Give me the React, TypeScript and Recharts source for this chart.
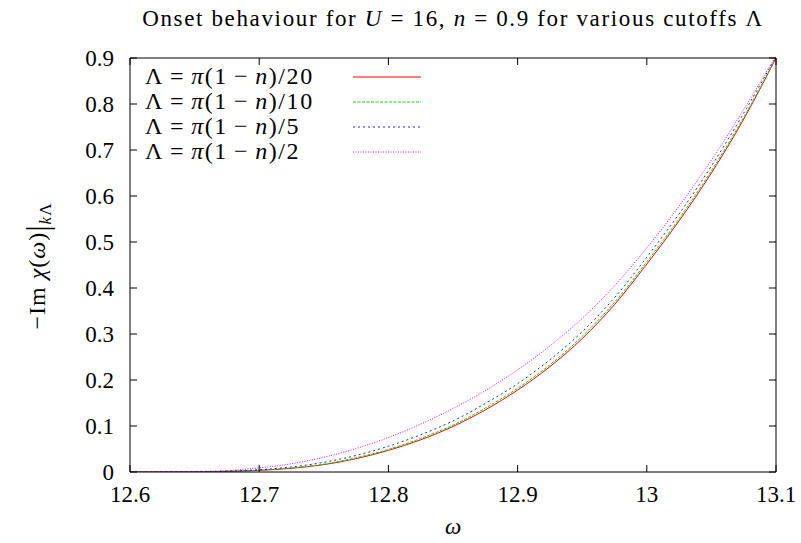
import React from "react";
import { ComposedChart, Line, XAxis, YAxis, Legend } from "recharts";

// frequency grid (omega)
const omega = [
  12.6, 12.625, 12.65, 12.675, 12.7, 12.725, 12.75, 12.775, 12.8, 12.825, 12.85,
  12.875, 12.9, 12.925, 12.95, 12.975, 13.0, 13.025, 13.05, 13.075, 13.1,
];

// -Im chi(omega) for each cutoff
const cut20 = [
  0, 0.0001, 0.0004, 0.0013, 0.0035, 0.008, 0.016, 0.029, 0.047, 0.07, 0.099,
  0.135, 0.178, 0.229, 0.29, 0.364, 0.452, 0.546, 0.65, 0.767, 0.9,
];
const cut10 = [
  0, 0.0001, 0.0005, 0.0015, 0.004, 0.009, 0.017, 0.031, 0.049, 0.073, 0.102,
  0.139, 0.182, 0.233, 0.295, 0.369, 0.457, 0.551, 0.655, 0.771, 0.9,
];
const cut5 = [
  0, 0.0002, 0.0007, 0.002, 0.005, 0.011, 0.021, 0.036, 0.056, 0.081, 0.111,
  0.149, 0.192, 0.244, 0.305, 0.379, 0.467, 0.561, 0.665, 0.78, 0.903,
];
const cut2 = [
  0, 0.0003, 0.001, 0.003, 0.009, 0.018, 0.032, 0.051, 0.075, 0.104, 0.138,
  0.177, 0.222, 0.274, 0.334, 0.405, 0.487, 0.578, 0.678, 0.788, 0.905,
];

const xTicks = [12.6, 12.7, 12.8, 12.9, 13, 13.1];
const yTicks = [0, 0.1, 0.2, 0.3, 0.4, 0.5, 0.6, 0.7, 0.8, 0.9];
const seriesKeys = ["c20", "c10", "c5", "c2"];
const divisors = ["20", "10", "5", "2"];

const data = omega.map((w, i) => ({
  w,
  c20: cut20[i],
  c10: cut10[i],
  c5: cut5[i],
  c2: cut2[i],
}));

const FONT = "'Liberation Serif', 'DejaVu Serif', serif";
const TICK = 7;

function BottomTick(props: any) {
  const { x, y, payload } = props;
  return (
    <g>
      <line x1={x} x2={x} y1={y} y2={y - TICK} stroke="#000" />
      <text
        x={x}
        y={y + 22}
        textAnchor="middle"
        dominantBaseline="central"
        style={{ fontFamily: FONT, fontSize: 23 }}
        fill="#000"
      >
        {String(payload.value)}
      </text>
    </g>
  );
}

function LeftTick(props: any) {
  const { x, y, payload } = props;
  return (
    <g>
      <line x1={x} x2={x + TICK} y1={y} y2={y} stroke="#000" />
      <text
        x={x - 16}
        y={y}
        textAnchor="end"
        dominantBaseline="central"
        style={{ fontFamily: FONT, fontSize: 23 }}
        fill="#000"
      >
        {String(payload.value)}
      </text>
    </g>
  );
}

function TopTick(props: any) {
  const { x, y } = props;
  return <line x1={x} x2={x} y1={y} y2={y + TICK} stroke="#000" />;
}

function RightTick(props: any) {
  const { x, y } = props;
  return <line x1={x} x2={x - TICK} y1={y} y2={y} stroke="#000" />;
}

const gap = { margin: "0 6px" };

function KeyBox(props: any) {
  const items = (props.payload || [])
    .filter((it: any) => seriesKeys.includes(it.dataKey) && it.type !== "none")
    .sort(
      (a: any, b: any) =>
        seriesKeys.indexOf(a.dataKey) - seriesKeys.indexOf(b.dataKey),
    );
  return (
    <div style={{ fontFamily: FONT, fontSize: 24, letterSpacing: 1.6 }}>
      {items.map((it: any) => (
        <div
          key={it.dataKey}
          style={{ display: "flex", alignItems: "center", height: 25 }}
        >
          <span style={{ width: 208, whiteSpace: "nowrap" }}>
            Λ<span style={gap}>=</span>
            <i>π</i>(1<span style={gap}>−</span>
            <i>n</i>)/{divisors[seriesKeys.indexOf(it.dataKey)]}
          </span>
          <svg width={68} height={6}>
            <line
              x1={0}
              x2={68}
              y1={3}
              y2={3}
              stroke={it.color}
              strokeDasharray={it.payload?.strokeDasharray}
            />
          </svg>
        </div>
      ))}
    </div>
  );
}

export default function App() {
  return (
    <div
      style={{
        position: "absolute",
        left: 0,
        top: 0,
        width: 801,
        height: 543,
        background: "#fff",
        fontFamily: FONT,
      }}
    >
      <div
        style={{
          position: "absolute",
          left: 0,
          width: 906,
          top: 6,
          textAlign: "center",
          fontSize: 23,
          letterSpacing: 1.65,
          whiteSpace: "nowrap",
        }}
      >
        Onset behaviour for <i>U</i> = 16, <i>n</i> = 0.9 for various cutoffs Λ
      </div>
      <ComposedChart
        width={801}
        height={543}
        data={data}
        margin={{ top: 57, right: 24, bottom: 70, left: 129 }}
      >
        <XAxis
          xAxisId="main"
          dataKey="w"
          type="number"
          domain={[12.6, 13.1]}
          ticks={xTicks}
          interval={0}
          height={1}
          tickSize={0}
          tickMargin={0}
          tick={<BottomTick />}
          axisLine={{ stroke: "#000" }}
          allowDataOverflow
        />
        <XAxis
          xAxisId="top"
          orientation="top"
          dataKey="w"
          type="number"
          domain={[12.6, 13.1]}
          ticks={xTicks}
          interval={0}
          height={1}
          tickSize={0}
          tickMargin={0}
          tick={<TopTick />}
          axisLine={{ stroke: "#000" }}
          allowDataOverflow
        />
        <YAxis
          yAxisId="main"
          type="number"
          domain={[0, 0.9]}
          ticks={yTicks}
          interval={0}
          width={1}
          tickSize={0}
          tickMargin={0}
          tick={<LeftTick />}
          axisLine={{ stroke: "#000" }}
          allowDataOverflow
        />
        <YAxis
          yAxisId="right"
          orientation="right"
          type="number"
          domain={[0, 0.9]}
          ticks={yTicks}
          interval={0}
          width={1}
          tickSize={0}
          tickMargin={0}
          tick={<RightTick />}
          axisLine={{ stroke: "#000" }}
          allowDataOverflow
        />
        <Legend
          layout="vertical"
          verticalAlign="middle"
          align="center"
          content={<KeyBox />}
          wrapperStyle={{ left: 145, top: 64, width: 300, height: 100 }}
        />
        <Line
          xAxisId="main"
          yAxisId="main"
          type="monotone"
          dataKey="c20"
          stroke="#ff0000"
          strokeWidth={1}
          dot={false}
          isAnimationActive={false}
        />
        <Line
          xAxisId="main"
          yAxisId="main"
          type="monotone"
          dataKey="c10"
          stroke="#00e000"
          strokeWidth={1}
          strokeDasharray="3 1.5"
          dot={false}
          isAnimationActive={false}
        />
        <Line
          xAxisId="main"
          yAxisId="main"
          type="monotone"
          dataKey="c5"
          stroke="#2020ff"
          strokeWidth={1}
          strokeDasharray="2 3"
          dot={false}
          isAnimationActive={false}
        />
        <Line
          xAxisId="main"
          yAxisId="main"
          type="monotone"
          dataKey="c2"
          stroke="#ff00ff"
          strokeWidth={1}
          strokeDasharray="1 1.5"
          dot={false}
          isAnimationActive={false}
        />
        <Line
          xAxisId="top"
          yAxisId="right"
          dataKey="c20"
          stroke="none"
          dot={false}
          legendType="none"
          isAnimationActive={false}
        />
      </ComposedChart>
      <div
        style={{
          position: "absolute",
          left: 40,
          top: 266,
          transform: "translate(-50%, -50%) rotate(-90deg)",
          fontSize: 24,
          letterSpacing: 1,
          whiteSpace: "nowrap",
        }}
      >
        −Im <i>χ</i>(<i>ω</i>)
        <span
          style={{ fontSize: 32, lineHeight: "20px", verticalAlign: "-3px" }}
        >
          |
        </span>
        <sub style={{ fontSize: 17 }}>
          <i>k</i>Λ
        </sub>
      </div>
      <div
        style={{
          position: "absolute",
          left: 453,
          top: 527,
          transform: "translate(-50%, -50%)",
          fontSize: 23,
        }}
      >
        <i>ω</i>
      </div>
    </div>
  );
}
